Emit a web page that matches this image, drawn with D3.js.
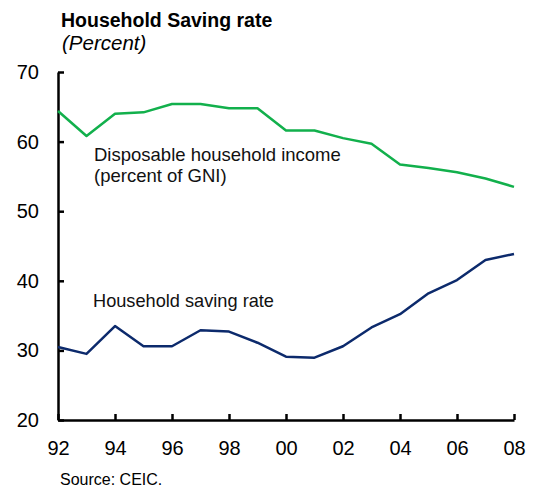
<!DOCTYPE html>
<html lang="en">
<head>
    <meta charset="UTF-8">
    <title>Household Saving rate</title>
    <script src="https://cdn.jsdelivr.net/npm/d3@7"></script>
    <style>
        body { margin: 0; background: #fff; }
        svg { font-family: "Liberation Sans", Arial, sans-serif; }
        .axis path, .axis line { stroke: #000; stroke-width: 2.5; }
        .axis text { font-size: 20px; fill: #000; }
    </style>
</head>
<body>
    <script>
        // years 1992..2008
        let years = d3.range(1992, 2009)
        let disposableIncome = [64.4, 60.8, 64.0, 64.2, 65.4, 65.4, 64.8, 64.8, 61.6,
                                61.6, 60.5, 59.7, 56.7, 56.2, 55.6, 54.7, 53.5]
        let savingRate = [30.5, 29.5, 33.5, 30.6, 30.6, 32.9, 32.7, 31.1, 29.1,
                          28.95, 30.6, 33.3, 35.2, 38.2, 40.1, 43.0, 43.85]
        let yTicks = [20, 30, 40, 50, 60, 70]
        let xTicks = d3.range(1992, 2009, 2)

        let w = 534, h = 489
        let plotLeft = 58, plotRight = 514, plotTop = 72, plotBottom = 420

        let svg = d3.select("body").append("svg")
            .attr("width", w)
            .attr("height", h)

        let xScale = d3.scaleLinear().domain([1992, 2008]).range([plotLeft, plotRight])
        let yScale = d3.scaleLinear().domain([20, 70]).range([plotBottom, plotTop])

        let xAxis = d3.axisBottom(xScale)
            .tickValues(xTicks)
            .tickSizeInner(-6)
            .tickSizeOuter(0)
            .tickPadding(20)
            .tickFormat(d => String(d % 100).padStart(2, "0"))

        let yAxis = d3.axisLeft(yScale)
            .tickValues(yTicks)
            .tickSizeInner(-6)
            .tickSizeOuter(0)
            .tickPadding(19)

        svg.append("g")
            .attr("class", "axis")
            .attr("transform", "translate(0," + plotBottom + ")")
            .call(xAxis)
            .call(g => g.selectAll("text").attr("dy", "0.75em"))

        svg.append("g")
            .attr("class", "axis")
            .attr("transform", "translate(" + plotLeft + ",0)")
            .call(yAxis)

        svg.selectAll(".axis").attr("font-family", null).attr("font-size", null)

        let line = d3.line()
            .x((d, i) => xScale(years[i]))
            .y(d => yScale(d))

        svg.append("path")
            .datum(disposableIncome)
            .attr("fill", "none")
            .attr("stroke", "#12b04c")
            .attr("stroke-width", 2.5)
            .attr("stroke-linejoin", "round")
            .attr("d", line)

        svg.append("path")
            .datum(savingRate)
            .attr("fill", "none")
            .attr("stroke", "#0c2a6c")
            .attr("stroke-width", 2.5)
            .attr("stroke-linejoin", "round")
            .attr("d", line)

        // titles
        svg.append("text")
            .attr("x", 61).attr("y", 27)
            .attr("font-size", "19.5px").attr("font-weight", "bold")
            .text("Household Saving rate")

        svg.append("text")
            .attr("x", 62).attr("y", 50)
            .attr("font-size", "20.5px").attr("font-style", "italic")
            .text("(Percent)")

        // series labels
        svg.append("text")
            .attr("x", 94).attr("y", 161)
            .attr("font-size", "18.5px").attr("fill", "#111")
            .text("Disposable household income")
        svg.append("text")
            .attr("x", 94).attr("y", 182)
            .attr("font-size", "18.5px").attr("fill", "#111")
            .text("(percent of GNI)")

        svg.append("text")
            .attr("x", 93).attr("y", 307)
            .attr("font-size", "18.2px").attr("fill", "#111")
            .text("Household saving rate")

        svg.append("text")
            .attr("x", 60).attr("y", 485)
            .attr("font-size", "16px")
            .text("Source: CEIC.")
    </script>
</body>
</html>
